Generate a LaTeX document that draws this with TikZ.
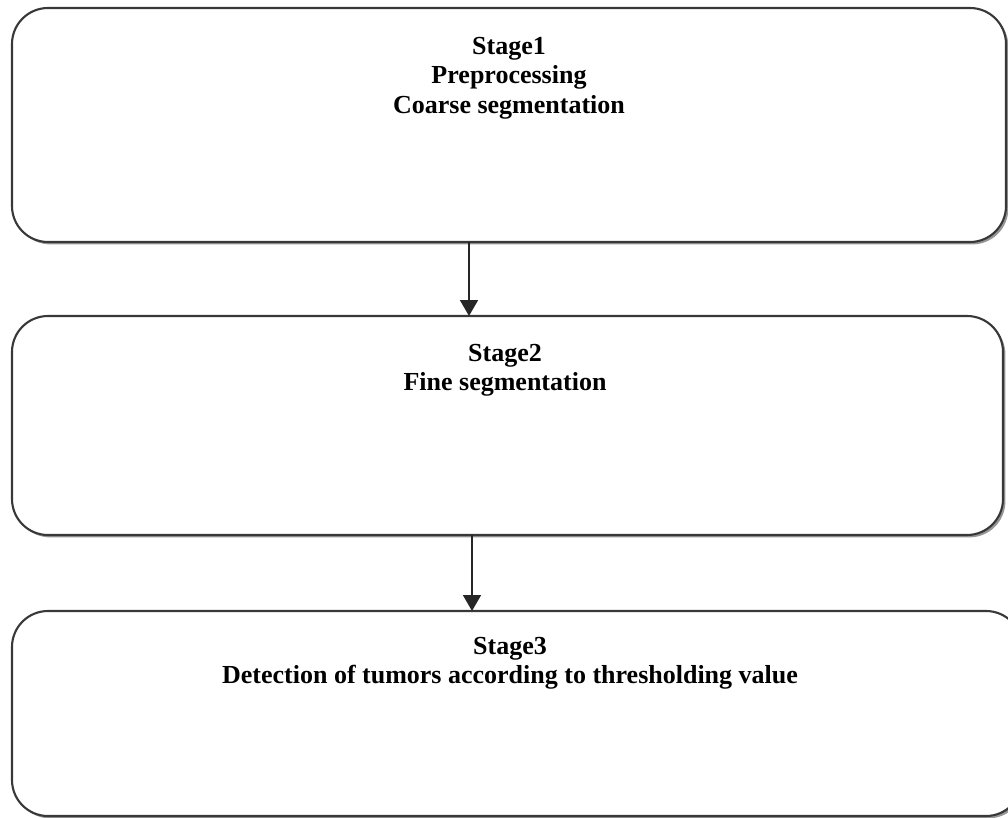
\documentclass[tikz,border=0pt]{standalone}
\usepackage{fontspec}
\setmainfont{Liberation Serif}
\usetikzlibrary{arrows.meta,shadows}
\begin{document}
\begin{tikzpicture}[x=1pt,y=-1pt,
  stagebox/.style={draw=black!78, line width=2.1pt, fill=white, rounded corners=36pt,
    inner sep=0pt, outer sep=0pt,
    drop shadow={shadow xshift=2.4pt, shadow yshift=-2.4pt, fill=black!55, opacity=0.75}},
  stagetext/.style={font=\fontsize{26}{29.5}\selectfont\bfseries, align=center, anchor=north, inner sep=0pt},
  flow/.style={draw=black!85, line width=1.8pt, -{Triangle[width=18pt,length=16pt]}}]
\useasboundingbox (0,0) rectangle (1008,818);
\node[stagebox, minimum width=994pt, minimum height=234pt] (b1) at (509,125) {};
\node[stagebox, minimum width=991pt, minimum height=219pt] (b2) at (507.5,425.5) {};
\node[stagebox, minimum width=1010pt, minimum height=205pt] (b3) at (517,713.5) {};
\node[stagetext] (t1) at (509,37) {Stage1\\Preprocessing\\Coarse segmentation};
\node[stagetext] (t2) at (505,344) {Stage2\\Fine segmentation};
\node[stagetext] (t3) at (510,637) {Stage3\\Detection of tumors according to thresholding value};
\coordinate (xa) at (469,0);
\coordinate (xb) at (472,0);
\draw[flow] (b1.south -| xa) -- (b2.north -| xa);
\draw[flow] (b2.south -| xb) -- (b3.north -| xb);
\end{tikzpicture}
\end{document}
